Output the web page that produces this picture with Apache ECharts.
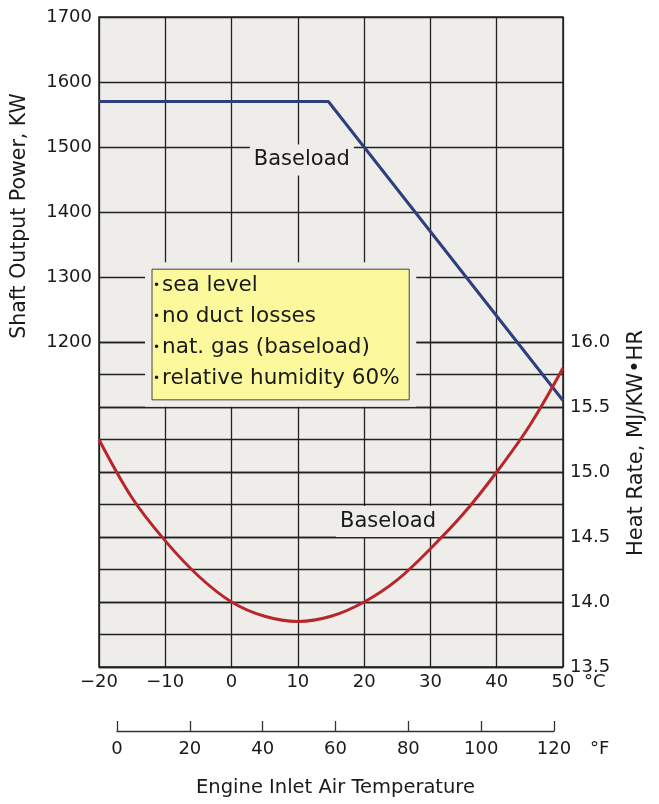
<!DOCTYPE html>
<html>
<head>
<meta charset="utf-8">
<script src="https://cdn.jsdelivr.net/npm/echarts@6/dist/echarts.min.js"></script>
<style>
html, body { margin: 0; padding: 0; background: #fff; }
#chart { width: 659px; height: 804px; }
</style>
</head>
<body>
<div id="chart"></div>
<script>
// baseload shaft output power (KW) against inlet temperature (deg C)
var powerTemp = [-20, 14.6, 50];
var powerKW = [1570, 1570, 1110];

// baseload heat rate (MJ/KW-HR) against inlet temperature (deg C)
var heatTemp = [-20, -15, -10, -5, 0, 5, 10, 15, 20, 25, 30, 35, 40, 45, 50];
var heatRate = [15.25, 14.80, 14.47, 14.20, 14.00, 13.89, 13.85, 13.89, 14.00, 14.17, 14.41, 14.68, 15.00, 15.36, 15.80];

var noteLines = ['sea level', 'no duct losses', 'nat. gas (baseload)', 'relative humidity 60%'];

var FONT = '"DejaVu Sans", "Liberation Sans", sans-serif';
var INK = '#1a1a1a';
var PLOT_BG = '#eeede9';
var GRID_LINE = { lineStyle: { color: '#222', width: 1.3 } };

var chartDom = document.getElementById('chart');
var myChart = echarts.init(chartDom, null, { renderer: 'canvas' });

var pair = function (xs, ys) {
    var out = [];
    for (var i = 0; i < xs.length; i++) out.push([xs[i], ys[i]]);
    return out;
};
var minus = function (v) {
    return v < 0 ? '\u2212' + Math.abs(v) : String(v);
};

var labelStyle = { color: INK, fontFamily: FONT, fontSize: 18 };

var option = {
    backgroundColor: '#fff',
    animation: false,
    grid: [
        { left: 99, right: 96, top: 17, height: 650, show: true, backgroundColor: PLOT_BG,
          borderColor: '#222', borderWidth: 1.5, outerBoundsMode: 'none' },
        { left: 99, right: 96, top: 342, height: 325, outerBoundsMode: 'none' },
        { left: 117, right: 105, top: 730, height: 1, outerBoundsMode: 'none' }
    ],
    xAxis: [
        { gridIndex: 0, type: 'value', position: 'bottom', min: -20, max: 50, interval: 10,
          axisLine: { show: false }, axisTick: { show: false },
          axisLabel: Object.assign({ margin: 6, formatter: minus }, labelStyle),
          splitLine: Object.assign({ show: true }, GRID_LINE),
          name: '\u00b0C', nameLocation: 'end', nameGap: 21,
          nameTextStyle: Object.assign({ verticalAlign: 'top', padding: [6, 0, 0, 0] }, labelStyle) },
        { gridIndex: 1, type: 'value', min: -20, max: 50, show: false },
        { gridIndex: 2, type: 'value', position: 'bottom', offset: 0, min: 0, max: 120, interval: 20,
          axisLine: { show: true, lineStyle: { color: '#333', width: 1.3 } },
          axisTick: { show: true, inside: true, length: 10, lineStyle: { color: '#333', width: 1.3 } },
          axisLabel: Object.assign({ margin: 9 }, labelStyle),
          splitLine: { show: false },
          name: '\u00b0F', nameLocation: 'end', nameGap: 36,
          nameTextStyle: Object.assign({ verticalAlign: 'top', padding: [9, 0, 0, 0] }, labelStyle) },
        { gridIndex: 2, type: 'value', position: 'bottom', offset: 0, min: 0, max: 120,
          axisLine: { show: false }, axisTick: { show: false }, axisLabel: { show: false },
          splitLine: { show: false },
          name: 'Engine Inlet Air Temperature', nameLocation: 'middle', nameGap: 47,
          nameTextStyle: { color: INK, fontFamily: FONT, fontSize: 19.5 } }
    ],
    yAxis: [
        { gridIndex: 0, type: 'value', position: 'left', min: 700, max: 1700, interval: 100,
          axisLine: { show: false }, axisTick: { show: false },
          axisLabel: Object.assign({ margin: 7, formatter: function (v) { return v >= 1200 ? String(v) : ''; } }, labelStyle),
          splitLine: Object.assign({ show: true }, GRID_LINE) },
        { gridIndex: 1, type: 'value', position: 'right', min: 13.5, max: 16.0, interval: 0.25,
          axisLine: { show: false }, axisTick: { show: false },
          axisLabel: Object.assign({ margin: 7, formatter: function (v) {
              return Math.abs(v * 2 - Math.round(v * 2)) < 1e-6 ? v.toFixed(1) : '';
          } }, labelStyle),
          splitLine: Object.assign({ show: true }, GRID_LINE) },
        { gridIndex: 2, type: 'value', show: false }
    ],
    series: [
        { name: 'Shaft Output Power', type: 'line', xAxisIndex: 0, yAxisIndex: 0,
          data: pair(powerTemp, powerKW), showSymbol: false, symbol: 'none',
          lineStyle: { color: '#2d3f7d', width: 3 }, z: 3 },
        { name: 'Heat Rate', type: 'line', xAxisIndex: 1, yAxisIndex: 1,
          data: pair(heatTemp, heatRate), smooth: 0.35, showSymbol: false, symbol: 'none',
          lineStyle: { color: '#b7262b', width: 3 }, z: 3 }
    ]
};
myChart.setOption(option);

// annotations, anchored in data units
var px = function (g, pt) { return myChart.convertToPixel({ gridIndex: g }, pt); };
var boxA = px(0, [-12.0, 1312]);
var boxB = px(0, [26.8, 1111]);
var gap = 7;
var lbl1 = px(0, [10.6, 1480]);
var lbl2 = px(1, [23.6, 14.62]);

var noteText = noteLines.map(function (t) { return '{b|\u2022}' + t; }).join('\n');

myChart.setOption({
    graphic: [
        { type: 'rect', z: 1, silent: true,
          shape: { x: boxA[0] - gap, y: boxA[1] - gap, width: boxB[0] - boxA[0] + 2 * gap, height: boxB[1] - boxA[1] + 2 * gap },
          style: { fill: PLOT_BG } },
        { type: 'rect', z: 1, silent: true,
          shape: { x: boxA[0], y: boxA[1], width: boxB[0] - boxA[0], height: boxB[1] - boxA[1] },
          style: { fill: '#fcf99d', stroke: '#444', lineWidth: 1 } },
        { type: 'text', z: 1, silent: true, x: boxA[0] + 1, y: boxA[1] + 1,
          style: { text: noteText, fontFamily: FONT, fontSize: 21.5, lineHeight: 31, fill: INK,
                   rich: { b: { fontSize: 12, fontFamily: FONT, lineHeight: 31, fill: INK, padding: [0, 2, 0, 0] } } } },
        { type: 'text', z: 1, silent: true, x: lbl1[0], y: lbl1[1],
          style: { text: 'Baseload', fontFamily: FONT, fontSize: 21, fill: INK, align: 'center', verticalAlign: 'middle',
                   backgroundColor: PLOT_BG, padding: [5, 4] } },
        { type: 'text', z: 1, silent: true, x: lbl2[0], y: lbl2[1],
          style: { text: 'Baseload', fontFamily: FONT, fontSize: 21, fill: INK, align: 'center', verticalAlign: 'middle',
                   backgroundColor: PLOT_BG, padding: [5, 4] } },
        { type: 'text', silent: true, x: 20, y: 216, rotation: Math.PI / 2,
          style: { text: 'Shaft Output Power, KW', fontFamily: FONT, fontSize: 20.5, fill: INK, align: 'center', verticalAlign: 'middle' } },
        { type: 'text', silent: true, x: 637, y: 443, rotation: Math.PI / 2,
          style: { text: 'Heat Rate, MJ/KW\u2022HR', fontFamily: FONT, fontSize: 21, fill: INK, align: 'center', verticalAlign: 'middle' } }
    ]
});

window.addEventListener('resize', function () { myChart.resize(); });
</script>
</body>
</html>
